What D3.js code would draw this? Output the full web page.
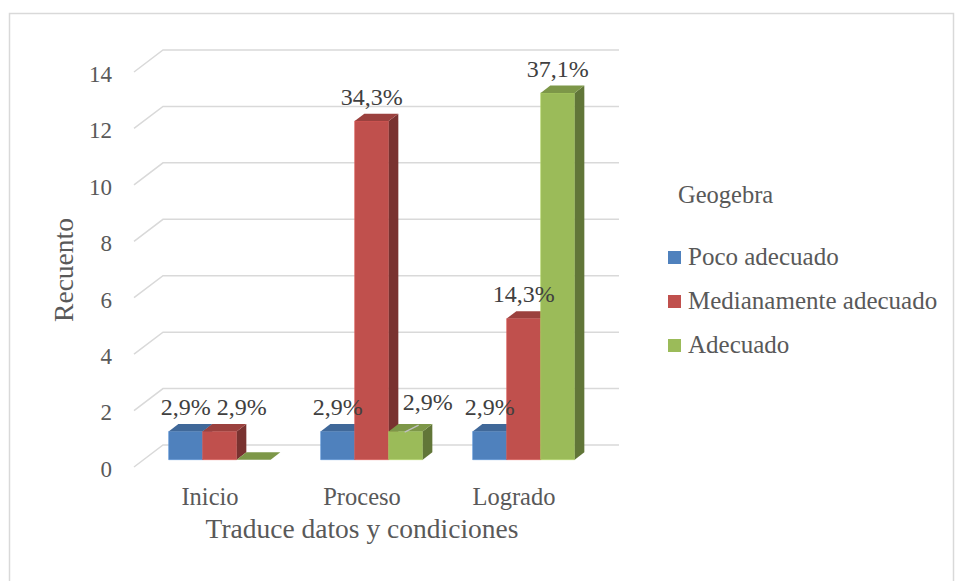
<!DOCTYPE html>
<html>
<head>
<meta charset="utf-8">
<script src="https://cdn.jsdelivr.net/npm/d3@7"></script>
<style>
  body { margin: 0; background: #fff; }
  svg { display: block; font-family: 'Liberation Serif', serif; }
</style>
</head>
<body>
<svg id="chart"></svg>
<script>
//Chart data
let categories = ['Inicio', 'Proceso', 'Logrado'];
let series = ['Poco adecuado', 'Medianamente adecuado', 'Adecuado'];
let pocoValues = [1, 1, 1];
let medianoValues = [1, 12, 5];
let adecuadoValues = [0, 1, 13];
let pocoLabels = ['2,9%', '2,9%', '2,9%'];
let medianoLabels = ['2,9%', '34,3%', '14,3%'];
let adecuadoLabels = ['', '2,9%', '37,1%'];
let yTicks = [0, 2, 4, 6, 8, 10, 12, 14];
let legendTitle = 'Geogebra';
let xTitle = 'Traduce datos y condiciones';
let yTitle = 'Recuento';

let colors = ['#4f81bd', '#c0504d', '#9bbb59'];

//Canvas
let canvas = { width: 955, height: 581 };
let svg = d3.select('#chart')
            .attr('width', canvas.width)
            .attr('height', canvas.height);

//3D depth vector (floor front -> back wall)
let depth = { dx: 29, dy: -22 };
let barFront = 0.333;
let barBack = 0.667;

//Scales (front plane of the floor)
let xScale = d3.scaleBand()
               .domain(categories)
               .range([134, 590]);

let seriesScale = d3.scaleBand()
                    .domain(series)
                    .range([25, 127]);

let yScale = d3.scaleLinear()
               .domain([0, 14])
               .range([467, 72]);

//Outer border
svg.append('rect')
   .attr('x', 9.5)
   .attr('y', 13.5)
   .attr('width', 944)
   .attr('height', 600)
   .attr('fill', 'none')
   .attr('stroke', '#d9d9d9')
   .attr('stroke-width', 1.5);

//Gridlines: side wall diagonal + back wall horizontal
let grid = svg.append('g').attr('class', 'grid');
yTicks.forEach((t) => {
    let x0 = xScale.range()[0];
    let y0 = yScale(t);
    let x1 = xScale.range()[1];
    grid.append('path')
        .attr('d', 'M' + x0 + ',' + y0 +
                   'L' + (x0 + depth.dx) + ',' + (y0 + depth.dy) +
                   'L' + (x1 + depth.dx) + ',' + (y0 + depth.dy))
        .attr('fill', 'none')
        .attr('stroke', '#d9d9d9')
        .attr('stroke-width', 1.5);
});

//Y axis labels
let yAxis = d3.axisLeft(yScale)
              .tickValues(yTicks)
              .tickSize(0)
              .tickPadding(8);

let yAxisG = svg.append('g')
                .attr('transform', 'translate(120, 2)')
                .call(yAxis);
yAxisG.select('.domain').remove();
yAxisG.selectAll('text')
      .style('font-family', 'Liberation Serif')
      .style('font-size', '23px')
      .attr('fill', '#595959');

//X axis labels
let xAxis = d3.axisBottom(xScale).tickSize(0).tickPadding(0);
let xAxisG = svg.append('g')
                .attr('transform', 'translate(0, 505)')
                .call(xAxis);
xAxisG.select('.domain').remove();
xAxisG.selectAll('text')
      .attr('y', 0)
      .attr('dy', 0)
      .style('font-family', 'Liberation Serif')
      .style('font-size', '24.5px')
      .attr('fill', '#595959');

//Axis titles
svg.append('text')
   .attr('x', 362)
   .attr('y', 538)
   .attr('text-anchor', 'middle')
   .style('font-size', '27.5px')
   .attr('fill', '#595959')
   .text(xTitle);

svg.append('text')
   .attr('transform', 'translate(73, 270) rotate(-90)')
   .attr('text-anchor', 'middle')
   .style('font-size', '27.5px')
   .attr('fill', '#595959')
   .text(yTitle);

//Bars
let allValues = [pocoValues, medianoValues, adecuadoValues];
let allLabels = [pocoLabels, medianoLabels, adecuadoLabels];

//label nudges where Excel moved labels aside (category-series) -> [dx, dy]
let labelNudge = { '0-1': [22, 0], '1-2': [22, -5] };

let bars = [];
categories.forEach((c, ci) => {
    series.forEach((s, si) => {
        bars.push({ cat: c, ci: ci, si: si, value: allValues[si][ci], label: allLabels[si][ci] });
    });
});

let barG = svg.append('g').attr('class', 'bars');

function pt(x, y) { return x + ',' + y; }

bars.forEach((d) => {
    let xf = xScale(d.cat) + seriesScale(series[d.si]) + depth.dx * barFront;
    let w = seriesScale.bandwidth();
    let yb = yScale(0) + depth.dy * barFront;
    let yt = yScale(d.value) + depth.dy * barFront;
    let ox = depth.dx * (barBack - barFront);
    let oy = depth.dy * (barBack - barFront);
    let base = d3.color(colors[d.si]);
    let g = barG.append('g');

    //front face
    if (d.value > 0) {
        g.append('path')
         .attr('d', 'M' + pt(xf, yb) + 'L' + pt(xf, yt) + 'L' + pt(xf + w, yt) + 'L' + pt(xf + w, yb) + 'Z')
         .attr('fill', base.formatHex())
         .attr('stroke', base.brighter(0.4).formatHex())
         .attr('stroke-width', 0.6);
        //side face
        g.append('path')
         .attr('d', 'M' + pt(xf + w, yb) + 'L' + pt(xf + w, yt) + 'L' + pt(xf + w + ox, yt + oy) + 'L' + pt(xf + w + ox, yb + oy) + 'Z')
         .attr('fill', base.darker(1.3).formatHex());
    }
    //top face
    g.append('path')
     .attr('d', 'M' + pt(xf, yt) + 'L' + pt(xf + ox, yt + oy) + 'L' + pt(xf + w + ox, yt + oy) + 'L' + pt(xf + w, yt) + 'Z')
     .attr('fill', base.darker(0.6).formatHex());
});

//Data labels
let labelG = svg.append('g').attr('class', 'labels');
bars.forEach((d) => {
    if (!d.label) return;
    let w = seriesScale.bandwidth();
    let cx = xScale(d.cat) + seriesScale(series[d.si]) + depth.dx * barFront + w / 2;
    let backTop = yScale(d.value) + depth.dy * barBack;
    let nudge = labelNudge[d.ci + '-' + d.si] || [0, 0];
    //leader line for the label pushed up and aside
    if (nudge[1] !== 0) {
        labelG.append('line')
              .attr('x1', cx - 1)
              .attr('y1', backTop + 8)
              .attr('x2', cx + 13)
              .attr('y2', backTop + 1)
              .attr('stroke', '#bfbfbf')
              .attr('stroke-width', 1.2);
    }
    labelG.append('text')
          .attr('x', cx + nudge[0])
          .attr('y', backTop - 9 + nudge[1])
          .attr('text-anchor', 'middle')
          .style('font-size', '24px')
          .attr('fill', '#404040')
          .text(d.label);
});

//Legend
let legend = svg.append('g').attr('class', 'legend');
legend.append('text')
      .attr('x', 678)
      .attr('y', 203)
      .style('font-size', '24.5px')
      .attr('fill', '#595959')
      .text(legendTitle);

series.forEach((s, i) => {
    let by = 265 + i * 44;
    legend.append('rect')
          .attr('x', 668)
          .attr('y', by - 14)
          .attr('width', 13)
          .attr('height', 13)
          .attr('fill', colors[i]);
    legend.append('text')
          .attr('x', 688)
          .attr('y', by)
          .style('font-size', '25px')
          .attr('fill', '#595959')
          .text(s);
});
</script>
</body>
</html>
